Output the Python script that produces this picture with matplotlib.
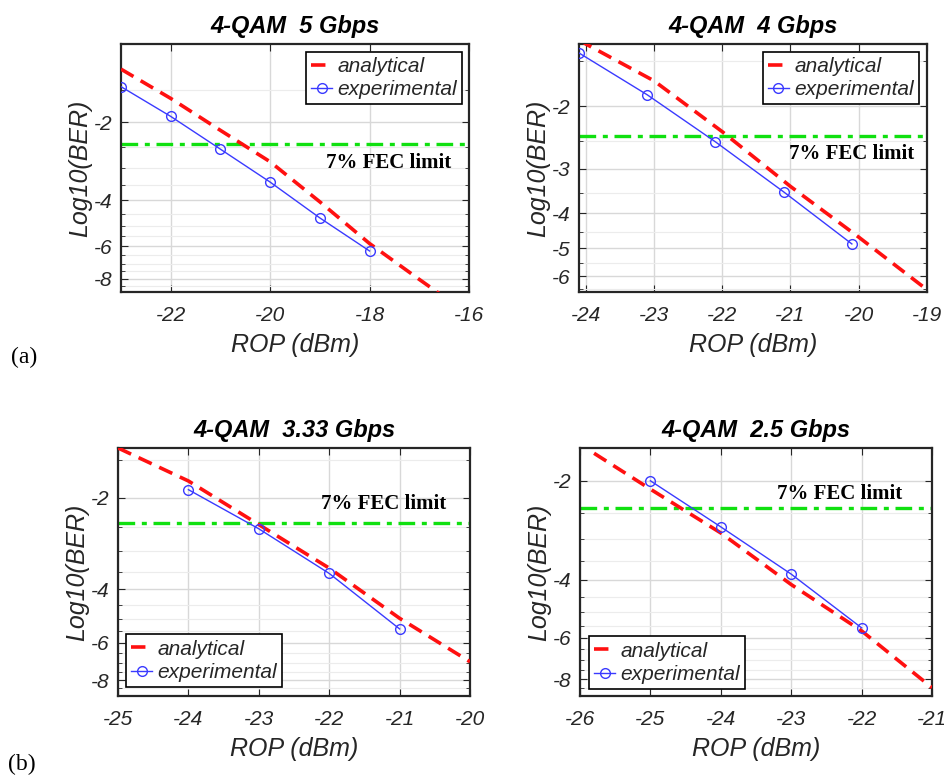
import numpy as np
import matplotlib.pyplot as plt
from matplotlib.ticker import FixedLocator, FuncFormatter, NullFormatter

plt.rcParams['font.family'] = ['Liberation Sans', 'DejaVu Sans']
plt.rcParams['axes.unicode_minus'] = False

# data (log10 of BER)
fec_limit = -2.42

titles = ['4-QAM  5 Gbps', '4-QAM  4 Gbps', '4-QAM  3.33 Gbps', '4-QAM  2.5 Gbps']

exp_x_5g = [-23, -22, -21, -20, -19, -18]
exp_y_5g = [-1.46, -1.90, -2.54, -3.40, -4.67, -6.26]
ana_x_5g = [-23, -22, -21, -20, -19, -18, -17, -16]
ana_y_5g = [-1.25, -1.62, -2.15, -2.84, -4.05, -5.86, -8.05, -11.0]

exp_x_4g = [-24.1, -23.1, -22.1, -21.1, -20.1]
exp_y_4g = [-1.42, -1.86, -2.52, -3.48, -4.87]
ana_x_4g = [-24.1, -24, -23, -22, -21, -20, -19]
ana_y_4g = [-1.30, -1.34, -1.70, -2.36, -3.36, -4.66, -6.54]

exp_x_333 = [-24, -23, -22, -21]
exp_y_333 = [-1.88, -2.53, -3.55, -5.41]
ana_x_333 = [-25, -24, -23, -22, -21, -20]
ana_y_333 = [-1.37, -1.76, -2.45, -3.41, -4.99, -6.94]

exp_x_25 = [-25, -24, -23, -22]
exp_y_25 = [-2.0, -2.76, -3.84, -5.59]
ana_x_25 = [-25.8, -25, -24, -23, -22, -21]
ana_y_25 = [-1.65, -2.12, -2.88, -4.13, -5.71, -8.49]

xlims = [(-23, -16), (-24.1, -19), (-25, -20), (-26, -21)]
ylims = [(-9, -1), (-6.64, -1.34), (-9, -1.37), (-9, -1.59)]
xticks = [[-22, -20, -18, -16], [-24, -23, -22, -21, -20, -19],
          [-25, -24, -23, -22, -21, -20], [-26, -25, -24, -23, -22, -21]]
yticks = [[-2, -4, -6, -8], [-2, -3, -4, -5, -6], [-2, -4, -6, -8], [-2, -4, -6, -8]]

exp_x = [exp_x_5g, exp_x_4g, exp_x_333, exp_x_25]
exp_y = [exp_y_5g, exp_y_4g, exp_y_333, exp_y_25]
ana_x = [ana_x_5g, ana_x_4g, ana_x_333, ana_x_25]
ana_y = [ana_y_5g, ana_y_4g, ana_y_333, ana_y_25]

fec_pos = [(-18.88, -2.88), (-21.02, -2.72), (-22.11, -2.10), (-23.2, -2.19)]
leg_loc = ['upper right', 'upper right', 'lower left', 'lower left']
leg_anchor = [(0.98, 0.968), (0.977, 0.968), (0.023, 0.036), (0.026, 0.028)]

boxes = [[0.1282, 0.6247, 0.3686, 0.3188], [0.6133, 0.6247, 0.3686, 0.3188],
         [0.125, 0.1054, 0.3729, 0.3188], [0.6144, 0.1054, 0.3729, 0.3188]]


def fwd(y):
    y = np.asarray(y, dtype=float)
    return -np.log10(np.where(y < 0, -y, 1e-9))


def inv(t):
    return -10.0 ** (-np.asarray(t, dtype=float))


fig = plt.figure(figsize=(9.44, 7.78), dpi=100)
txt = '#262626'

for i in range(4):
    ax = fig.add_axes(boxes[i])
    ax.set_yscale('function', functions=(fwd, inv))
    ax.plot(ana_x[i], ana_y[i], '--', color='#ff1010', lw=2.6, dashes=(4, 2.3), label='analytical', zorder=3)
    ax.plot(exp_x[i], exp_y[i], '-o', color='#3a3aff', lw=1.0, ms=7, mfc='none', mew=1.0,
            label='experimental', zorder=4)
    ax.axhline(fec_limit, color='#10e010', lw=2.4, ls=(0, (5, 2, 1.5, 2)), zorder=2)
    ax.text(fec_pos[i][0], fec_pos[i][1], '7% FEC limit', family='Liberation Serif',
            fontweight='bold', fontsize=15, ha='left', va='center', color='black')

    ax.set_xlim(*xlims[i])
    ax.set_ylim(*ylims[i])
    ax.set_xticks(xticks[i])
    ax.yaxis.set_major_locator(FixedLocator(yticks[i]))
    minors = [v for v in np.arange(-9, -1.0, 0.5) if v not in yticks[i]]
    ax.yaxis.set_minor_locator(FixedLocator(minors))
    ax.yaxis.set_major_formatter(FuncFormatter(lambda v, p: '%g' % v))
    ax.yaxis.set_minor_formatter(NullFormatter())

    ax.grid(True, which='major', color='#d8d8d8', lw=1.0, zorder=0)
    ax.grid(True, which='minor', axis='y', color='#ececec', lw=0.8, zorder=0)
    ax.tick_params(which='both', direction='in', top=True, right=True, color=txt)
    ax.tick_params(which='major', length=5, pad=10, labelsize=15, labelcolor=txt)
    ax.tick_params(axis='y', which='major', pad=6)
    ax.tick_params(which='minor', length=3)
    for lab in ax.get_xticklabels() + ax.get_yticklabels():
        lab.set_fontstyle('italic')
    for s in ax.spines.values():
        s.set_color(txt)
        s.set_linewidth(1.6)

    ax.set_title(titles[i], fontsize=17, fontweight='bold', fontstyle='italic', pad=8, color='black')
    ax.set_xlabel('ROP (dBm)', fontsize=18, fontstyle='italic', color=txt, labelpad=6)
    ax.set_ylabel('Log10(BER)', fontsize=18, fontstyle='italic', color=txt, labelpad=1)

    leg = ax.legend(loc=leg_loc[i], bbox_to_anchor=leg_anchor[i], fontsize=15, handlelength=1.0,
                    handletextpad=0.25, borderpad=0.25, labelspacing=0.2, fancybox=False,
                    framealpha=1, edgecolor='black', borderaxespad=0)
    leg.get_frame().set_linewidth(1.2)
    for t in leg.get_texts():
        t.set_fontstyle('italic')
        t.set_color(txt)

fig.text(0.012, 0.54, '(a)', family='Liberation Serif', fontsize=17, va='center')
fig.text(0.009, 0.018, '(b)', family='Liberation Serif', fontsize=17, va='center')

fig.savefig('out.png', dpi=100)
